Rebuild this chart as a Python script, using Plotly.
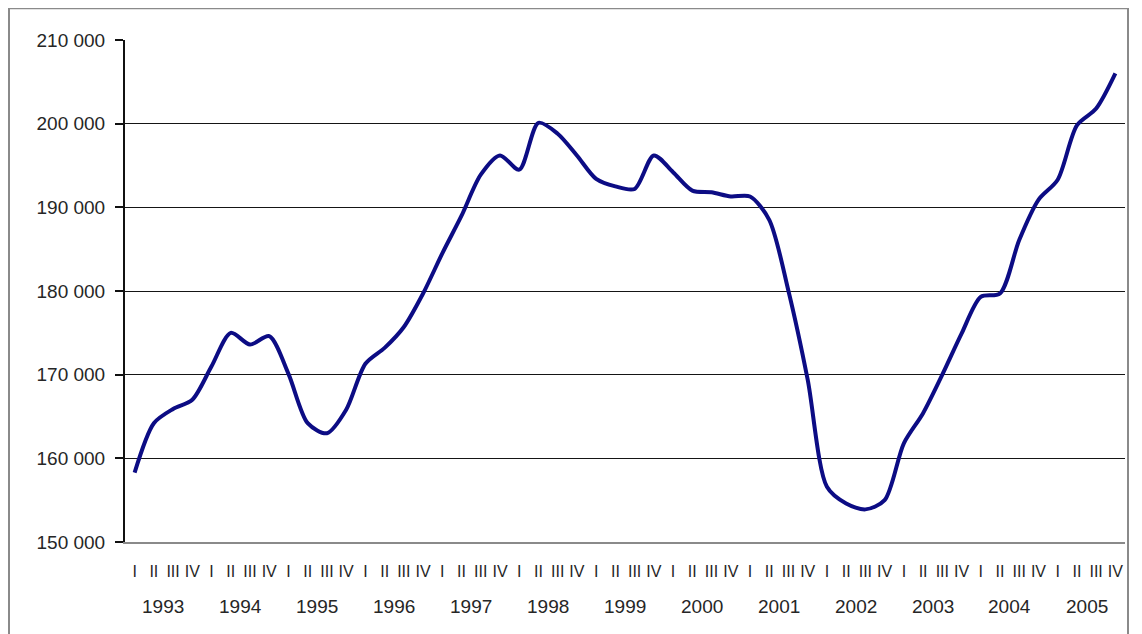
import plotly.graph_objects as go

years = [str(y) for y in range(1993, 2006)]
quarter_names = ["I", "II", "III", "IV"]

values = [
    158300, 164200, 165900, 167000,   # 1993
    171000, 175000, 173600, 174600,   # 1994
    170100, 164200, 163000, 165800,   # 1995
    171300, 173200, 175700, 179700,   # 1996
    184500, 189000, 193900, 196200,   # 1997
    194500, 200100, 198800, 196200,   # 1998
    193400, 192500, 192200, 196200,   # 1999
    194200, 192000, 191800, 191300,   # 2000
    191300, 188500, 180000, 169400,   # 2001
    156600, 154600, 153900, 155000,   # 2002
    161800, 165400, 170000, 174900,   # 2003
    179300, 179700, 186100, 190900,   # 2004
    193300, 199800, 201800, 206000,   # 2005
]

y_ticks = [150000, 160000, 170000, 180000, 190000, 200000, 210000]

n = len(values)
xs = list(range(n))
qlabels = [quarter_names[i % 4] for i in range(n)]

FONT = "Liberation Sans, Arial, sans-serif"

fig = go.Figure()
fig.add_trace(go.Scatter(
    x=xs, y=values, mode="lines",
    line=dict(color="#0c0c84", width=4, shape="spline", smoothing=0.8),
    hoverinfo="skip", showlegend=False,
))

for k, yr in enumerate(years):
    fig.add_annotation(
        x=k * 4 + 1.5, y=-0.1275, xref="x", yref="paper",
        text=yr, showarrow=False, yanchor="middle", xanchor="center",
        font=dict(family=FONT, size=19, color="#262626"),
    )

# outer chart frame
fig.add_shape(
    type="rect", xref="paper", yref="paper",
    x0=-0.116, x1=1.003, y0=-0.2, y1=1.063,
    line=dict(color="#8a8a8a", width=2), fillcolor="rgba(0,0,0,0)",
    layer="below",
)

fig.update_layout(
    width=1142, height=634,
    margin=dict(l=117, r=25, t=32, b=100),
    paper_bgcolor="white", plot_bgcolor="white",
    separators=", ",
    font=dict(family=FONT, size=16, color="#262626"),
    xaxis=dict(
        range=[-0.5, n - 0.5],
        tickmode="array", tickvals=xs, ticktext=qlabels,
        showgrid=False, zeroline=False,
        showline=True, linecolor="#8a8a8a", linewidth=1.5,
        ticks="", tickangle=0, ticklabelstandoff=14,
        tickfont=dict(family=FONT, size=16, color="#262626"),
    ),
    yaxis=dict(
        range=[150000, 210000],
        tickmode="array", tickvals=y_ticks,
        tickformat=",d",
        showgrid=True, gridcolor="#151515", gridwidth=1.2,
        zeroline=False,
        showline=True, linecolor="#111", linewidth=2,
        ticks="outside", ticklen=8, tickcolor="#111", tickwidth=1.5,
        tickfont=dict(family=FONT, size=19, color="#262626"),
        ticklabelstandoff=6,
    ),
)

fig.write_html("out.html")
